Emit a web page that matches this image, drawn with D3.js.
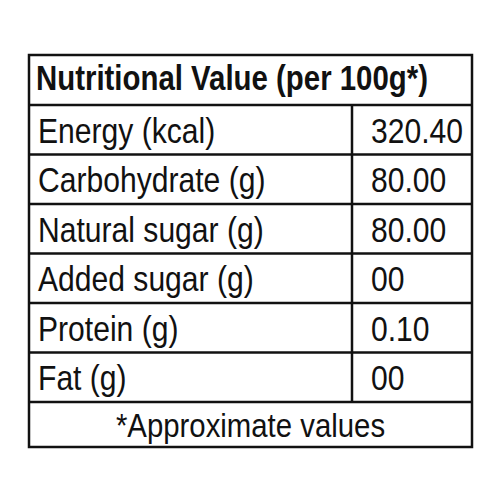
<!DOCTYPE html>
<html><head><meta charset="utf-8">
<script src="https://cdn.jsdelivr.net/npm/d3@7"></script>
<style>body{margin:0;background:#fff}text{font-family:"Liberation Sans Narrow","Liberation Sans",Arial,sans-serif}</style>
</head><body><svg id="c" width="500" height="500"></svg>
<script>
const title = "Nutritional Value (per 100g*)";
const nutrients = ["Energy (kcal)","Carbohydrate (g)","Natural sugar (g)","Added sugar (g)","Protein (g)","Fat (g)"];
const amounts = ["320.40","80.00","80.00","00","0.10","00"];
const footnote = "*Approximate values";

const svg = d3.select("#c");
const L=29, R=472, T=55, H1=105, B=447;
const y = d3.scaleBand().domain(nutrients).range([H1,402]);
const F = y.range()[1];
const colX = 352;
const g = svg.append("g").attr("stroke","#111").attr("stroke-width",2.5);
g.append("rect").attr("x",L).attr("y",T).attr("width",R-L).attr("height",B-T).attr("fill","none");
g.append("line").attr("x1",L).attr("x2",R).attr("y1",H1).attr("y2",H1);
g.selectAll(".r").data(nutrients).enter().append("line")
 .attr("x1",L).attr("x2",R).attr("y1",d=>y(d)+y.bandwidth()).attr("y2",d=>y(d)+y.bandwidth());
g.append("line").attr("x1",colX).attr("x2",colX).attr("y1",H1).attr("y2",F);

const sx=0.86;
svg.append("text").attr("transform",`translate(36,${H1-15}) scale(0.84,1)`).attr("font-size",35).attr("font-weight","bold").attr("fill","#111").text(title);
svg.selectAll(".n").data(nutrients).enter().append("text")
 .attr("transform",d=>`translate(38,${y(d)+y.bandwidth()/2+13}) scale(${sx},1)`).attr("font-size",35).attr("fill","#111").text(d=>d);
svg.selectAll(".v").data(amounts).enter().append("text")
 .attr("transform",(d,i)=>`translate(371,${y(nutrients[i])+y.bandwidth()/2+13}) scale(${sx},1)`).attr("font-size",35).attr("fill","#111").text(d=>d);
svg.append("text").attr("transform",`translate(${(L+R)/2},${(F+B)/2+12}) scale(0.89,1)`).attr("text-anchor","middle").attr("font-size",33).attr("fill","#111").text(footnote);
</script></body></html>
